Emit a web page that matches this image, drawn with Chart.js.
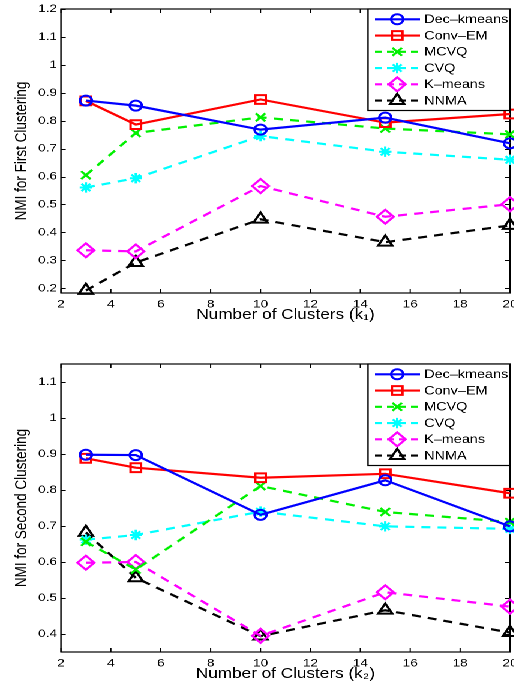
<!DOCTYPE html>
<html>
<head>
<meta charset="utf-8">
<script src="https://cdn.jsdelivr.net/npm/chart.js@4/dist/chart.umd.min.js"></script>
<style>
  html, body { margin: 0; padding: 0; background: #fff; overflow: hidden; width: 514px; height: 687px; }
  #wrap { position: absolute; left: 0; top: 0; width: 445px; height: 687px; transform: scaleX(1.2); transform-origin: 0 0; }
  canvas { position: absolute; left: 0; }
  #c1 { top: 0; }
  #c2 { top: 335px; }
</style>
</head>
<body>
<div id="wrap">
  <canvas id="c1" width="445" height="330"></canvas>
  <canvas id="c2" width="445" height="350"></canvas>
</div>
<script>
// ---------- data ----------
const clusters = [3, 5, 10, 15, 20];
const xTicks = [2, 4, 6, 8, 10, 12, 14, 16, 18, 20];

const seriesNames = ['Dec–kmeans', 'Conv–EM', 'MCVQ', 'CVQ', 'K–means', 'NNMA'];

// first clustering (k1)
const decKmeans1 = [0.872, 0.854, 0.768, 0.811, 0.719];
const convEM1    = [0.871, 0.786, 0.876, 0.793, 0.824];
const mcvq1      = [0.605, 0.756, 0.812, 0.772, 0.751];
const cvq1       = [0.561, 0.594, 0.745, 0.689, 0.660];
const kmeans1    = [0.336, 0.332, 0.566, 0.456, 0.501];
const nnma1      = [0.192, 0.292, 0.447, 0.365, 0.425];
const yTicks1 = [0.2, 0.3, 0.4, 0.5, 0.6, 0.7, 0.8, 0.9, 1, 1.1, 1.2];

// second clustering (k2)
const decKmeans2 = [0.898, 0.897, 0.731, 0.827, 0.699];
const convEM2    = [0.888, 0.862, 0.834, 0.845, 0.791];
const mcvq2      = [0.656, 0.579, 0.811, 0.739, 0.711];
const cvq2       = [0.662, 0.675, 0.740, 0.699, 0.692];
const kmeans2    = [0.598, 0.600, 0.395, 0.516, 0.476];
const nnma2      = [0.682, 0.556, 0.394, 0.466, 0.404];
const yTicks2 = [0.4, 0.5, 0.6, 0.7, 0.8, 0.9, 1, 1.1];

// ---------- styles ----------
const FONT = "'Liberation Sans', Arial, Helvetica, sans-serif";
const styles = [
  { color: '#0000ff', pointStyle: 'circle',   radius: 5,   dash: [] },
  { color: '#ff0000', pointStyle: 'rect',     radius: 6.2, dash: [] },
  { color: '#00f000', pointStyle: 'crossRot', radius: 5.6, dash: [7.5, 6] },
  { color: '#00ffff', pointStyle: 'star',     radius: 5.2, dash: [7.5, 6] },
  { color: '#ff00ff', pointStyle: 'rectRot',  radius: 7,   dash: [7.5, 6] },
  { color: '#000000', pointStyle: 'triangle', radius: 6.8, dash: [7.5, 6] }
];
const PBW = 2;

function makeDatasets(arrays) {
  return arrays.map((vals, i) => {
    const s = styles[i];
    return {
      label: seriesNames[i],
      data: clusters.map((x, j) => ({ x: x, y: vals[j] })),
      borderColor: s.color,
      backgroundColor: 'rgba(0,0,0,0)',
      borderWidth: 2.2,
      borderDash: s.dash,
      pointStyle: s.pointStyle,
      pointRadius: s.radius,
      pointHoverRadius: s.radius,
      pointBorderWidth: PBW,
      pointBorderColor: s.color,
      pointBackgroundColor: 'rgba(0,0,0,0)',
      tension: 0,
      clip: false
    };
  });
}

function drawMarker(ctx, style, r, x, y) {
  if (Chart.helpers && Chart.helpers.drawPoint) {
    Chart.helpers.drawPoint(ctx, { pointStyle: style, radius: r, rotation: 0, borderWidth: PBW }, x, y);
  }
}

const framePlugin = {
  id: 'frame',
  beforeDatasetsDraw(chart) {
    const { ctx, chartArea: a, scales } = chart;
    ctx.save();
    ctx.strokeStyle = '#000';
    ctx.lineWidth = 1;
    ctx.beginPath();
    scales.y.ticks.forEach(t => {
      const py = Math.round(scales.y.getPixelForValue(t.value)) + 0.5;
      ctx.moveTo(a.left, py); ctx.lineTo(a.left + 4, py);
      ctx.moveTo(a.right, py); ctx.lineTo(a.right - 4, py);
    });
    scales.x.ticks.forEach(t => {
      const px = scales.x.getPixelForValue(t.value);
      ctx.moveTo(px, a.bottom); ctx.lineTo(px, a.bottom - 4);
      ctx.moveTo(px, a.top); ctx.lineTo(px, a.top + 4);
    });
    ctx.stroke();
    ctx.lineWidth = 1.2;
    ctx.strokeRect(a.left, a.top, a.right - a.left, a.bottom - a.top);
    ctx.restore();
  },
  afterDatasetsDraw(chart) {
    const { ctx, chartArea: a } = chart;
    const left = 306.7, right = a.right, top = a.top, h = 101.5;
    ctx.save();
    ctx.fillStyle = '#fff';
    ctx.fillRect(left, top, right - left, h);
    ctx.strokeStyle = '#000';
    ctx.lineWidth = 1.2;
    ctx.strokeRect(left, top, right - left, h);
    chart.data.datasets.forEach((ds, i) => {
      const y = top + 10.3 + i * 16.25;
      ctx.save();
      ctx.strokeStyle = ds.borderColor;
      ctx.lineWidth = 2.2;
      ctx.setLineDash(ds.borderDash.length ? [5.5, 4.5] : []);
      ctx.beginPath();
      ctx.moveTo(312.5, y); ctx.lineTo(350, y);
      ctx.stroke();
      ctx.setLineDash([]);
      ctx.fillStyle = 'rgba(0,0,0,0)';
      ctx.strokeStyle = ds.borderColor;
      ctx.lineWidth = PBW;
      drawMarker(ctx, ds.pointStyle, ds.pointRadius, 331, y);
      ctx.restore();
      ctx.fillStyle = '#000';
      ctx.font = '12px ' + FONT;
      ctx.textBaseline = 'middle';
      ctx.textAlign = 'left';
      ctx.fillText(ds.label, 353.5, y + 0.5);
    });
    ctx.restore();
  }
};

function makeChart(id, arrays, yMin, yMax, yTicks, xTitle, yTitle, padTop, padBottom) {
  return new Chart(document.getElementById(id), {
    type: 'line',
    data: { datasets: makeDatasets(arrays) },
    options: {
      responsive: false,
      animation: false,
      devicePixelRatio: 2,
      events: [],
      layout: { padding: { left: 0, right: 20, top: padTop, bottom: padBottom } },
      plugins: { legend: { display: false }, tooltip: { enabled: false } },
      scales: {
        x: {
          type: 'linear',
          min: 2, max: 20,
          afterBuildTicks: s => { s.ticks = xTicks.map(v => ({ value: v })); },
          afterFit: s => { s.height = 29; s.paddingLeft = 0; s.paddingRight = 0; },
          grid: { display: false, drawTicks: false },
          border: { display: false },
          ticks: {
            autoSkip: false, maxRotation: 0, padding: 5.5, color: '#000',
            font: { family: FONT, size: 11.3, lineHeight: 1 },
            callback: v => String(v)
          },
          title: {
            display: true, text: xTitle, color: '#000',
            font: { family: FONT, size: 14.3, lineHeight: 1 },
            padding: { top: 0, bottom: 0 }
          }
        },
        y: {
          type: 'linear',
          min: yMin, max: yMax,
          afterBuildTicks: s => { s.ticks = yTicks.map(v => ({ value: v })); },
          afterFit: s => { s.width = 50.8; s.paddingTop = 0; s.paddingBottom = 0; },
          grid: { display: false, drawTicks: false },
          border: { display: false },
          ticks: {
            autoSkip: false, padding: 3.3, color: '#000',
            font: { family: FONT, size: 11.3, lineHeight: 1 },
            callback: v => String(v)
          },
          title: {
            display: true, text: yTitle, color: '#000',
            font: { family: FONT, size: 13.5, lineHeight: 1 },
            padding: { top: 11.5, bottom: 0 }
          }
        }
      }
    },
    plugins: [framePlugin]
  });
}

makeChart('c1', [decKmeans1, convEM1, mcvq1, cvq1, kmeans1, nnma1], 0.183, 1.2, yTicks1,
  'Number of Clusters (k₁)', 'NMI for First Clustering', 5, 8);
makeChart('c2', [decKmeans2, convEM2, mcvq2, cvq2, kmeans2, nnma2], 0.35, 1.15, yTicks2,
  'Number of Clusters (k₂)', 'NMI for Second Clustering', 29, 4);
</script>
</body>
</html>
